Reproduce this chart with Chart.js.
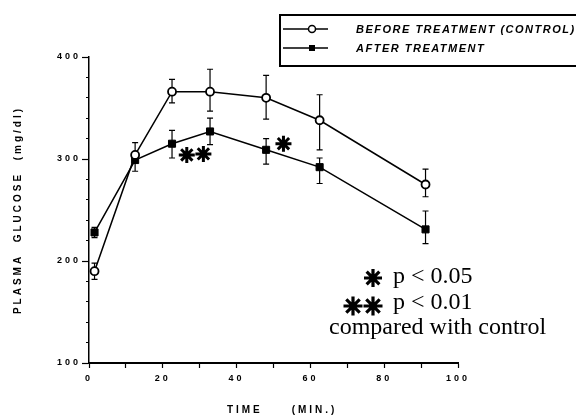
<!DOCTYPE html>
<html>
<head>
<meta charset="utf-8">
<script src="https://cdn.jsdelivr.net/npm/chart.js@4.4.0/dist/chart.umd.min.js"></script>
<style>
  html, body { margin: 0; padding: 0; background: #fff; }
  #wrap { width: 576px; height: 416px; }
</style>
</head>
<body>
<div id="wrap"><canvas id="glucoseChart" width="576" height="416"></canvas></div>
<script>
// sampling times (min)
const times = [1.5, 12.5, 22.5, 32.8, 48, 62.5, 91.2];

// before treatment (control), mean and error bar ends
const beforeValues = [190, 304, 366, 366, 360, 338, 275];
const beforeHigh = [198, 316, 378, 388, 382, 363, 290];
const beforeLow = [182, 300, 355, 347, 339, 309, 263];

// after treatment
const afterValues = [228, 299, 315, 327, 309, 292, 231];
const afterHigh = [233, 304, 328, 340, 320, 301, 249];
const afterLow = [223, 288, 301, 314, 295, 276, 217];

// significance asterisks
const starTimes = [26.5, 31, 52.7];
const starValues = [304, 305, 315];

const seriesLabels = ['BEFORE TREATMENT (CONTROL)', 'AFTER TREATMENT'];
const noteLines = ['p < 0.05', 'p < 0.01', 'compared with control'];

function toPoints(xs, ys) {
  return xs.map((x, i) => ({ x: x, y: ys[i] }));
}

const scaleFont = { family: '"Liberation Sans", Arial, sans-serif', size: 9, weight: 'bold' };
const titleFont = { family: '"Liberation Sans", Arial, sans-serif', size: 10, weight: 'bold' };

// simple asterisk used in the notes
function drawAsterisk(ctx, x, y, r, w) {
  ctx.save();
  ctx.lineWidth = w;
  ctx.strokeStyle = '#000';
  ctx.beginPath();
  for (let k = 0; k < 4; k++) {
    const a = k * Math.PI / 4;
    ctx.moveTo(x - Math.cos(a) * r, y - Math.sin(a) * r);
    ctx.lineTo(x + Math.cos(a) * r, y + Math.sin(a) * r);
  }
  ctx.stroke();
  ctx.restore();
}

const spacedText = {
  id: 'spacedText',
  beforeDraw(chart) {
    chart.ctx.letterSpacing = '3px';
  },
  beforeDatasetsDraw(chart) {
    const ctx = chart.ctx;
    ctx.letterSpacing = '0px';
    // error bars, under the markers
    const xs = chart.scales.x, ys = chart.scales.y;
    ctx.save();
    ctx.strokeStyle = '#000';
    ctx.lineWidth = 1.2;
    [[beforeHigh, beforeLow], [afterHigh, afterLow]].forEach(pair => {
      times.forEach((t, i) => {
        const px = xs.getPixelForValue(t);
        const top = ys.getPixelForValue(pair[0][i]);
        const bot = ys.getPixelForValue(pair[1][i]);
        ctx.beginPath();
        ctx.moveTo(px, top); ctx.lineTo(px, bot);
        ctx.moveTo(px - 3, top); ctx.lineTo(px + 3, top);
        ctx.moveTo(px - 3, bot); ctx.lineTo(px + 3, bot);
        ctx.stroke();
      });
    });
    ctx.restore();
  },
  afterDraw(chart) {
    const ctx = chart.ctx;
    ctx.save();
    ctx.letterSpacing = '0px';
    ctx.strokeStyle = '#000';
    ctx.fillStyle = '#000';

    // legend box
    ctx.lineWidth = 2;
    ctx.strokeRect(280, 15, 300, 51);
    seriesLabels.forEach((label, i) => {
      const y = 29 + i * 19;
      ctx.lineWidth = 1.5;
      ctx.beginPath();
      ctx.moveTo(283, y); ctx.lineTo(328, y);
      ctx.stroke();
      if (i === 0) {
        ctx.beginPath();
        ctx.arc(312, y, 3.5, 0, Math.PI * 2);
        ctx.fillStyle = '#fff';
        ctx.fill();
        ctx.stroke();
        ctx.fillStyle = '#000';
      } else {
        ctx.fillRect(309, y - 3, 6, 6);
      }
      ctx.letterSpacing = '1.5px';
      ctx.font = 'italic bold 11px "Liberation Sans", Arial, sans-serif';
      ctx.textBaseline = 'middle';
      ctx.textAlign = 'left';
      ctx.fillText(label, 356, y + 1);
      ctx.letterSpacing = '0px';
    });

    // significance notes
    ctx.font = '24px "Liberation Serif", "Times New Roman", serif';
    ctx.textBaseline = 'alphabetic';
    ctx.fillText(noteLines[0], 393, 283);
    ctx.fillText(noteLines[1], 393, 309);
    ctx.fillText(noteLines[2], 329, 334);
    drawAsterisk(ctx, 373, 278, 9, 3.2);
    drawAsterisk(ctx, 353, 306, 9.5, 3.2);
    drawAsterisk(ctx, 373, 306, 9.5, 3.2);
    ctx.restore();
  }
};

const chart = new Chart(document.getElementById('glucoseChart').getContext('2d'), {
  type: 'line',
  data: {
    datasets: [
      {
        label: seriesLabels[0],
        data: toPoints(times, beforeValues),
        borderColor: '#000',
        borderWidth: 1.5,
        pointStyle: 'circle',
        pointRadius: 4,
        pointBackgroundColor: '#fff',
        pointBorderColor: '#000',
        pointBorderWidth: 1.8
      },
      {
        label: seriesLabels[1],
        data: toPoints(times, afterValues),
        borderColor: '#000',
        borderWidth: 1.5,
        pointStyle: 'rect',
        pointRadius: 5,
        pointBackgroundColor: '#000',
        pointBorderColor: '#000',
        pointBorderWidth: 1
      },
      {
        label: 'significant',
        data: toPoints(starTimes, starValues),
        showLine: false,
        pointStyle: 'star',
        pointRadius: 8,
        pointBorderWidth: 3,
        pointBorderColor: '#000'
      }
    ]
  },
  options: {
    responsive: false,
    animation: false,
    layout: { padding: { left: 0, top: 57, right: 118, bottom: 0 } },
    plugins: { legend: { display: false }, tooltip: { enabled: false } },
    scales: {
      x: {
        type: 'linear',
        min: 0,
        max: 100,
        ticks: {
          stepSize: 10,
          autoSkip: false,
          maxRotation: 0,
          padding: 5,
          color: '#000',
          font: scaleFont,
          callback: v => (v % 20 === 0 ? v : '')
        },
        grid: { drawOnChartArea: false, tickLength: 5, tickColor: '#000', tickWidth: 1.2 },
        border: { color: '#000', width: 2 },
        title: { display: true, text: '   TIME     (MIN.)', color: '#000', font: titleFont, padding: 0 },
        afterFit: s => { s.height = 53; }
      },
      y: {
        min: 100,
        max: 400,
        ticks: {
          stepSize: 20,
          autoSkip: false,
          padding: 1,
          color: '#000',
          font: scaleFont,
          callback: v => (v % 100 === 0 ? v : '')
        },
        grid: {
          drawOnChartArea: false,
          tickLength: 7,
          tickColor: '#000',
          tickWidth: 1.2,
          tickBorderDash: c => (c.tick && c.tick.value % 100 === 0 ? [] : [0, 4, 3, 10])
        },
        border: { color: '#000', width: 1.5 },
        title: { display: true, text: 'PLASMA  GLUCOSE  (mg/dl)', color: '#000', font: titleFont, padding: { top: 12, bottom: 0 } },
        afterFit: s => { s.width = 89; }
      }
    }
  },
  plugins: [spacedText]
});
</script>
</body>
</html>
